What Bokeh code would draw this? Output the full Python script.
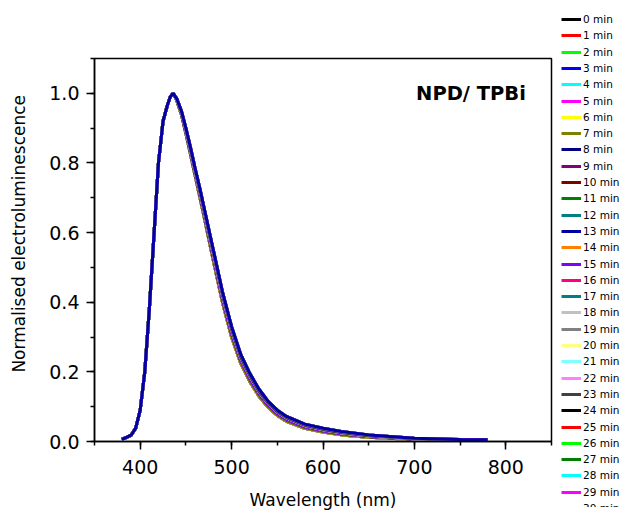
from bokeh.plotting import figure
from bokeh.layouts import row, column
from bokeh.models import (Range1d, SingleIntervalTicker, NumeralTickFormatter,
                          Legend, LegendItem, Label, ColumnDataSource)
from bokeh.embed import file_html
from bokeh.resources import INLINE

# ---------------- data ----------------
wavelength = [380, 385, 390, 395, 400, 405, 410, 415, 420, 425, 430, 433, 436,
              440, 445, 450, 455, 460, 465, 470, 480, 490, 500, 510, 520, 530,
              540, 550, 560, 580, 600, 620, 650, 700, 750, 780]

# rising edge, common to all spectra (380-436 nm)
rise = [0.006, 0.012, 0.018, 0.038, 0.09, 0.20, 0.38, 0.59, 0.80, 0.92, 0.968, 0.99, 1.0]

# falling edge (440-780 nm): four slightly different spectral shapes
fall_a = [0.980, 0.940, 0.885, 0.825, 0.765, 0.705, 0.645, 0.520, 0.400, 0.300, 0.225,
          0.172, 0.130, 0.098, 0.075, 0.058, 0.038, 0.027, 0.019, 0.012, 0.006, 0.004, 0.004]
fall_b = [0.982, 0.945, 0.890, 0.832, 0.772, 0.713, 0.653, 0.530, 0.410, 0.310, 0.233,
          0.180, 0.137, 0.104, 0.080, 0.063, 0.042, 0.031, 0.022, 0.014, 0.007, 0.005, 0.004]
fall_c = [0.984, 0.948, 0.895, 0.838, 0.778, 0.720, 0.660, 0.540, 0.420, 0.320, 0.241,
          0.188, 0.143, 0.110, 0.085, 0.068, 0.046, 0.034, 0.025, 0.016, 0.008, 0.005, 0.005]
fall_d = [0.985, 0.950, 0.900, 0.845, 0.785, 0.730, 0.670, 0.550, 0.430, 0.330, 0.250,
          0.195, 0.150, 0.115, 0.090, 0.072, 0.050, 0.038, 0.029, 0.019, 0.009, 0.006, 0.005]

spectra = {"a": rise + fall_a, "b": rise + fall_b, "c": rise + fall_c, "d": rise + fall_d}

minutes = list(range(31))
series_labels = [f"{m} min" for m in minutes]
series_shape = ["a"] * 8 + ["b"] * 8 + ["c"] * 8 + ["d"] * 7

series_colors = ["#000000", "#FF0000", "#00FF00", "#0000FF", "#00FFFF", "#FF00FF",
                 "#FFFF00", "#808000", "#000080", "#800080", "#800000", "#008000",
                 "#008080", "#0000A0", "#FF8000", "#8000FF", "#FF0080", "#008080",
                 "#C0C0C0", "#808080", "#FFFF80", "#80FFFF", "#FF80FF", "#404040",
                 "#000000", "#FF0000", "#00FF00", "#008000", "#00FFFF", "#FF00FF",
                 "#0000A0"]

x_label = "Wavelength (nm)"
y_label = "Normalised electroluminescence"
title_text = "NPD/ TPBi"

# ---------------- main figure ----------------
FONT = "DejaVu Sans"
H = 507
B_LEFT, B_RIGHT, B_TOP = 94, 8, 58
FRAME_W, FRAME_H = 457, 383
B_BOTTOM = H - B_TOP - FRAME_H
W_MAIN = B_LEFT + FRAME_W + B_RIGHT
W_LEG = 621 - W_MAIN

p = figure(frame_width=FRAME_W, frame_height=FRAME_H, title=None,
           min_border_left=B_LEFT, min_border_right=B_RIGHT,
           min_border_top=B_TOP, min_border_bottom=B_BOTTOM,
           x_range=Range1d(350, 850), y_range=Range1d(0, 1.1),
           output_backend="svg", toolbar_location=None)

p.background_fill_color = "white"
p.border_fill_color = "white"
p.outline_line_color = "black"
p.outline_line_width = 1.5
p.xgrid.visible = False
p.ygrid.visible = False

src = {"wl": wavelength}
for m, shp in zip(minutes, series_shape):
    src[f"s{m}"] = spectra[shp]
source = ColumnDataSource(src)

for m, col in zip(minutes, series_colors):
    p.line("wl", f"s{m}", source=source, line_color=col, line_width=3)

# axes
p.xaxis.ticker = SingleIntervalTicker(interval=100, num_minor_ticks=2)
p.yaxis.ticker = SingleIntervalTicker(interval=0.2, num_minor_ticks=2)
p.xaxis.formatter = NumeralTickFormatter(format="0")
p.yaxis.formatter = NumeralTickFormatter(format="0.0")
for ax in (p.xaxis[0], p.yaxis[0]):
    ax.axis_line_color = "black"
    ax.axis_line_width = 1.5
    ax.major_tick_line_color = "black"
    ax.minor_tick_line_color = "black"
    ax.major_tick_line_width = 1.5
    ax.minor_tick_line_width = 1.5
    ax.major_tick_in = 0
    ax.minor_tick_in = 0
    ax.major_tick_out = 8
    ax.minor_tick_out = 4
    ax.major_label_text_font = FONT
    ax.major_label_text_font_size = "19px"
    ax.major_label_text_color = "black"
    ax.axis_label_text_font = FONT
    ax.axis_label_text_font_size = "17px"
    ax.axis_label_text_font_style = "normal"
    ax.axis_label_text_color = "black"

p.xaxis.axis_label = x_label
# leading no-break spaces lift the rotated label slightly, as in the original
p.yaxis.axis_label = "\u00a0" * 6 + y_label
p.xaxis.major_label_standoff = 10
p.yaxis.major_label_standoff = 7
p.xaxis.axis_label_standoff = 13
p.yaxis.axis_label_standoff = 17

p.add_layout(Label(x=822, y=1.0, text=title_text, text_align="right",
                   text_baseline="alphabetic", text_font=FONT,
                   text_font_size="19.5px", text_font_style="bold", text_color="black"))

# ---------------- legend panel ----------------
# The same spectra are drawn here only to serve as legend keys; the ranges keep
# them out of view so that only the legend shows.
q = figure(width=W_LEG, height=H, title=None, min_border=0,
           min_border_left=0, min_border_right=0, min_border_top=0, min_border_bottom=0,
           x_range=Range1d(0, 1), y_range=Range1d(0, 1),
           x_axis_type=None, y_axis_type=None,
           output_backend="svg", toolbar_location=None)
q.outline_line_color = None
q.background_fill_color = "white"
q.border_fill_color = "white"
q.xgrid.visible = False
q.ygrid.visible = False
for fig in (p, q):
    if "frame_align" in fig.properties():
        fig.frame_align = False

keys = []
for m, col in zip(minutes, series_colors):
    keys.append(q.line("wl", f"s{m}", source=source, line_color=col, line_width=3))

PITCH = 16.3
for k, (lab, r) in enumerate(zip(series_labels, keys)):
    center_y = 19 + PITCH * k                 # from the top of the legend panel
    leg = Legend(items=[LegendItem(label=lab, renderers=[r])],
                 location=(2, H - (center_y + 8)), orientation="vertical",
                 padding=0, margin=0, spacing=0,
                 glyph_width=20, glyph_height=16, label_height=16,
                 label_standoff=2, label_text_font=FONT, label_text_font_size="10.5px",
                 label_text_color="black", border_line_color=None,
                 background_fill_alpha=0)
    q.add_layout(leg)

layout = row(p, column(q), spacing=0)
open("out.html", "w").write(file_html(layout, INLINE))
